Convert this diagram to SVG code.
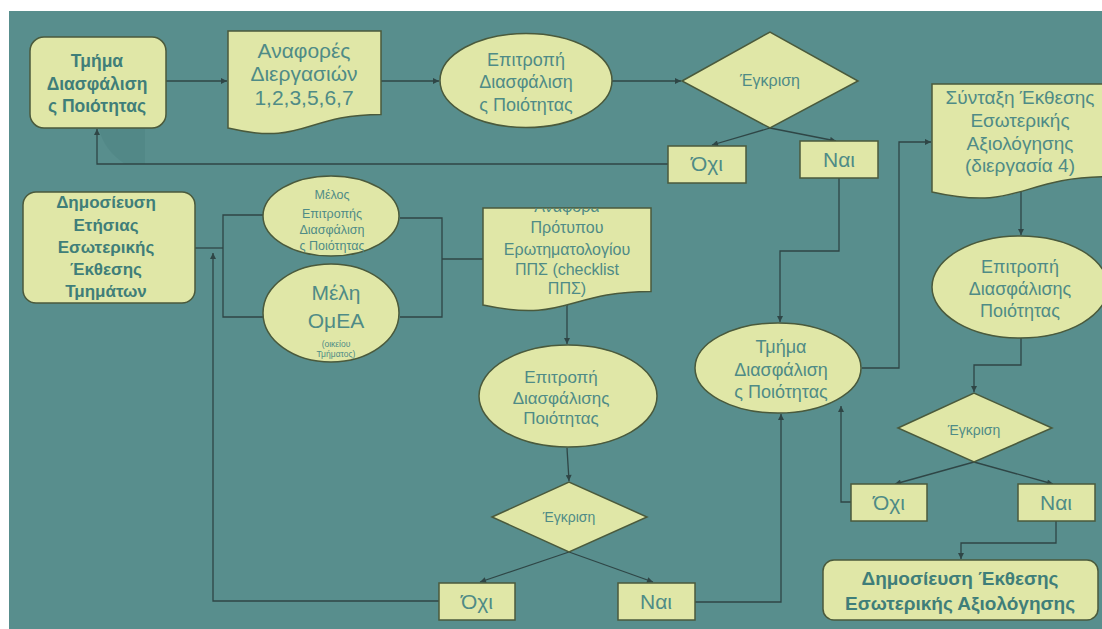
<svg xmlns="http://www.w3.org/2000/svg" width="1102" height="629" viewBox="0 0 1102 629">
<defs>
<style>
.shape{fill:#e0e7a7;stroke:#4a5a3c;stroke-width:1.5}
.conn{fill:none;stroke:#2f4646;stroke-width:1.3}
.t{font-family:"Liberation Sans",Arial,sans-serif;fill:#4f8b86;text-anchor:middle}
.b{font-family:"Liberation Sans",Arial,sans-serif;fill:#3f7e79;text-anchor:middle;font-weight:bold}
</style>
<marker id="ah" viewBox="0 0 10 10" refX="10" refY="5" markerWidth="7" markerHeight="6" markerUnits="userSpaceOnUse" orient="auto">
<path d="M0,0 L10,5 L0,10 Z" fill="#2f4646"/>
</marker>
<clipPath id="doc3clip"><path d="M483,208 H651 V291.4 C567,291.4 567,323.1 483,305.1 Z"/></clipPath>
</defs>
<rect x="0" y="0" width="1102" height="629" fill="#ffffff"/>
<rect x="9" y="11" width="1093" height="618" fill="#588e8d"/>
<path d="M99,129 L145,129 L145,164 L125,164 Q104,150 99,129 Z" fill="#528887"/>

<g id="connectors">
<path class="conn" d="M166,81 H227" marker-end="url(#ah)"/>
<path class="conn" d="M381,81 H439" marker-end="url(#ah)"/>
<path class="conn" d="M612,81 H681" marker-end="url(#ah)"/>
<path class="conn" d="M770,128 L712,145" marker-end="url(#ah)"/>
<path class="conn" d="M770,128 L836,141" marker-end="url(#ah)"/>
<path class="conn" d="M668,164 H97 V129" marker-end="url(#ah)"/>
<path class="conn" d="M839,178 V251 H780 V322" marker-end="url(#ah)"/>
<path class="conn" d="M862,368 H899 V142 H931" marker-end="url(#ah)"/>
<path class="conn" d="M1021,186 V235" marker-end="url(#ah)"/>
<path class="conn" d="M1021,338 V365 H974 V392" marker-end="url(#ah)"/>
<path class="conn" d="M974,462 L895,484" marker-end="url(#ah)"/>
<path class="conn" d="M974,462 L1053,484" marker-end="url(#ah)"/>
<path class="conn" d="M851,502 H841 V406" marker-end="url(#ah)"/>
<path class="conn" d="M1056,521 V543 H961 V559" marker-end="url(#ah)"/>
<path class="conn" d="M195,248 H223"/>
<path class="conn" d="M263,215 H223 V317 H263"/>
<path class="conn" d="M400,218 H442 V317 H400"/>
<path class="conn" d="M442,259 H483"/>
<path class="conn" d="M567,300 V344" marker-end="url(#ah)"/>
<path class="conn" d="M567,448 L569,481" marker-end="url(#ah)"/>
<path class="conn" d="M569,552 L480,582" marker-end="url(#ah)"/>
<path class="conn" d="M569,552 L653,582" marker-end="url(#ah)"/>
<path class="conn" d="M695,602 H781 V414" marker-end="url(#ah)"/>
<path class="conn" d="M439,601 H213 V253" marker-end="url(#ah)"/>
</g>

<g id="n-tmima-top">
<rect class="shape" x="30" y="37" width="136" height="91" rx="14"/>
<text class="b" font-size="17.5" x="97" y="67">Τμήμα</text>
<text class="b" font-size="17.5" x="97" y="90">Διασφάλιση</text>
<text class="b" font-size="17.5" x="97" y="112">ς Ποιότητας</text>
</g>

<g id="n-anafores">
<path class="shape" d="M228,31 H381 V114.4 C304.5,114.4 304.5,146.1 228,128.1 Z"/>
<text class="t" font-size="21" x="304" y="58">Αναφορές</text>
<text class="t" font-size="21" x="304" y="81">Διεργασιών</text>
<text class="t" font-size="21" x="304" y="105">1,2,3,5,6,7</text>
</g>

<g id="n-epitropi-top">
<ellipse class="shape" cx="526" cy="80.5" rx="86" ry="47"/>
<text class="t" font-size="18" x="526" y="66">Επιτροπή</text>
<text class="t" font-size="18" x="526" y="88">Διασφάλιση</text>
<text class="t" font-size="18" x="526" y="111">ς Ποιότητας</text>
</g>

<g id="n-egkrisi-top">
<polygon class="shape" points="682,81 770,32 858,81 770,128"/>
<text class="t" font-size="16" x="770" y="86">Έγκριση</text>
</g>

<g id="n-oxi-top">
<rect class="shape" x="668" y="146" width="78" height="37"/>
<text class="t" font-size="21" x="707" y="171">Όχι</text>
</g>

<g id="n-nai-top">
<rect class="shape" x="800" y="141" width="78" height="37"/>
<text class="t" font-size="21" x="839" y="167">Ναι</text>
</g>

<g id="n-syntaxi">
<path class="shape" d="M932,84 H1108 V176.7 C1020,176.7 1020,212 932,192 Z"/>
<text class="t" font-size="19" x="1020" y="104">Σύνταξη Έκθεσης</text>
<text class="t" font-size="19" x="1020" y="127">Εσωτερικής</text>
<text class="t" font-size="19" x="1020" y="150">Αξιολόγησης</text>
<text class="t" font-size="19" x="1020" y="172">(διεργασία 4)</text>
</g>

<g id="n-epitropi-right">
<ellipse class="shape" cx="1020" cy="287" rx="88" ry="51"/>
<text class="t" font-size="18" x="1020" y="273">Επιτροπή</text>
<text class="t" font-size="18" x="1020" y="295">Διασφάλισης</text>
<text class="t" font-size="18" x="1020" y="317">Ποιότητας</text>
</g>

<g id="n-egkrisi-right">
<polygon class="shape" points="898,428 974,393 1052,428 974,462"/>
<text class="t" font-size="14" x="974" y="435">Έγκριση</text>
</g>

<g id="n-oxi-right">
<rect class="shape" x="851" y="484" width="76" height="37"/>
<text class="t" font-size="21" x="889" y="510">Όχι</text>
</g>

<g id="n-nai-right">
<rect class="shape" x="1018" y="484" width="77" height="37"/>
<text class="t" font-size="21" x="1056" y="510">Ναι</text>
</g>

<g id="n-dimosieusi-final">
<rect class="shape" x="823" y="560" width="275" height="60" rx="11"/>
<text class="b" font-size="19" x="960" y="585">Δημοσίευση Έκθεσης</text>
<text class="b" font-size="19" x="960" y="610">Εσωτερικής Αξιολόγησης</text>
</g>

<g id="n-tmima-mid">
<ellipse class="shape" cx="778" cy="368" rx="83" ry="45"/>
<text class="t" font-size="18" x="781" y="353">Τμήμα</text>
<text class="t" font-size="18" x="781" y="376">Διασφάλιση</text>
<text class="t" font-size="18" x="781" y="398">ς Ποιότητας</text>
</g>

<g id="n-dimosieusi-left">
<rect class="shape" x="23" y="192" width="172" height="111" rx="13"/>
<text class="b" font-size="17" x="106" y="208">Δημοσίευση</text>
<text class="b" font-size="17" x="106" y="231">Ετήσιας</text>
<text class="b" font-size="17" x="106" y="253">Εσωτερικής</text>
<text class="b" font-size="17" x="106" y="275">Έκθεσης</text>
<text class="b" font-size="17" x="106" y="297">Τμημάτων</text>
</g>

<g id="n-melos">
<ellipse class="shape" cx="331" cy="216" rx="68" ry="40"/>
<text class="t" font-size="12.5" x="332" y="199">Μέλος</text>
<text class="t" font-size="12.5" x="332" y="218">Επιτροπής</text>
<text class="t" font-size="12.5" x="332" y="234">Διασφάλιση</text>
<text class="t" font-size="12.5" x="332" y="250">ς Ποιότητας</text>
</g>

<g id="n-meli-omea">
<ellipse class="shape" cx="331" cy="313" rx="68" ry="49"/>
<text class="t" font-size="21" x="336" y="300">Μέλη</text>
<text class="t" font-size="21" x="336" y="328">ΟμΕΑ</text>
<text class="t" font-size="8.5" x="336" y="347">(οικείου</text>
<text class="t" font-size="8.5" x="336" y="357">Τμήματος)</text>
</g>

<g id="n-anafora-pps">
<path class="shape" d="M483,208 H651 V291.4 C567,291.4 567,323.1 483,305.1 Z"/>
<text class="t" font-size="16" x="567" y="212" clip-path="url(#doc3clip)">Αναφορά</text>
<text class="t" font-size="16" x="567" y="233">Πρότυπου</text>
<text class="t" font-size="16" x="567" y="255">Ερωτηματολογίου</text>
<text class="t" font-size="16" x="567" y="275">ΠΠΣ (checklist</text>
<text class="t" font-size="16" x="567" y="294">ΠΠΣ)</text>
</g>

<g id="n-epitropi-mid">
<ellipse class="shape" cx="568" cy="396" rx="89" ry="51"/>
<text class="t" font-size="17" x="561" y="383">Επιτροπή</text>
<text class="t" font-size="17" x="561" y="404">Διασφάλισης</text>
<text class="t" font-size="17" x="561" y="424">Ποιότητας</text>
</g>

<g id="n-egkrisi-mid">
<polygon class="shape" points="492,517 569,482 647,517 569,552"/>
<text class="t" font-size="14" x="569" y="522">Έγκριση</text>
</g>

<g id="n-oxi-mid">
<rect class="shape" x="439" y="583" width="76" height="37"/>
<text class="t" font-size="21" x="477" y="609">Όχι</text>
</g>

<g id="n-nai-mid">
<rect class="shape" x="618" y="583" width="77" height="37"/>
<text class="t" font-size="21" x="656" y="609">Ναι</text>
</g>
</svg>
